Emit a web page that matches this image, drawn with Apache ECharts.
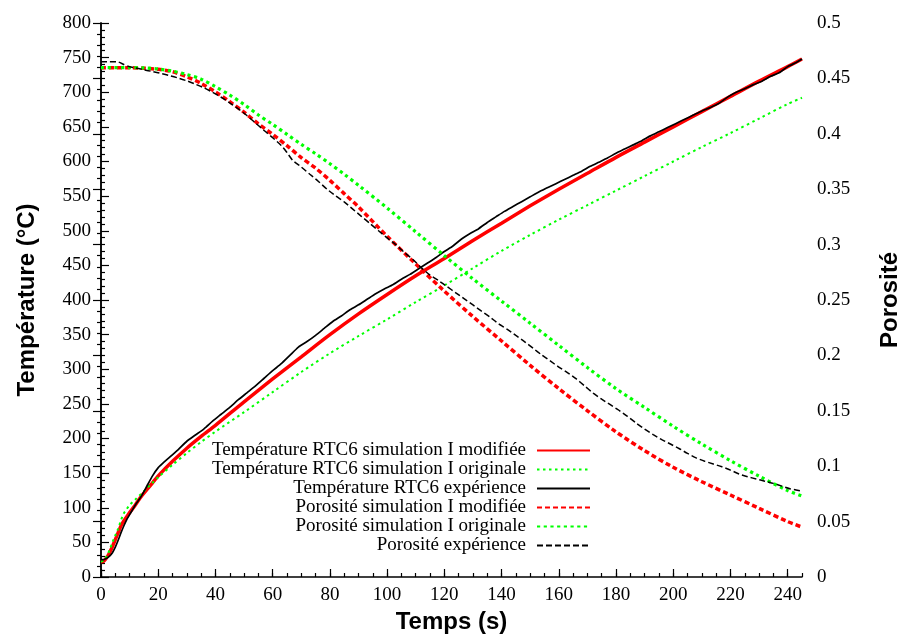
<!DOCTYPE html>
<html>
<head>
<meta charset="utf-8">
<script src="https://cdn.jsdelivr.net/npm/echarts@6/dist/echarts.min.js"></script>
<style>html,body{margin:0;padding:0;background:#fff;}#c{width:902px;height:635px;}</style>
</head>
<body>
<div id="c"></div>
<script>
// ---- Data ----
var tSim = [0,1,2,3,4,5,6,7,8,9,10,12,14,16,18,20,25,30,35,40,50,60,70,80,90,100,110,120,130,140,150,160,170,180,190,200,210,220,230,240,245];
var tempModifiee = [22,23,28,35,44,54,64,74,81,87,93,104,116,126,136,146,167,186,203,219,253,286,318,350,380,408,435,460,486,511,536,560,583,606,628,650,672,694,716,737,748];
var tempOriginale = [22,24,30,39,50,60,70,82,92,98,104,112,120,128,136,144,162,179,195,210,238,267,296,323,348,372,397,421,446,471,494,516,537,558,579,600,621,641,662,683,692];

var tTempExp = [0,1,2,3,4,5,6,7,8,9,10,11,12,14,16,18,20,22,24,27,30,33,36,39,42,45,48,51,54,57,60,63,66,69,72,75,78,81,84,87,90,93,96,99,102,105,108,111,114,117,120,123,126,129,132,135,138,141,144,147,150,153,156,159,162,165,168,171,174,177,180,183,186,189,192,195,198,201,204,207,210,213,216,219,222,225,228,231,234,237,240,243,245];
var tempExperience = [25,25,27,30,35,43,53,64,74,83,90,97,104,116,131,146,158,166,173,184,196,205,214,225,235,245,256,266,276,287,298,308,320,332,340,349,359,369,377,386,393,401,409,416,422,430,437,445,453,461,470,478,488,496,503,512,520,528,535,542,549,556,562,568,574,580,586,593,599,605,612,618,624,630,637,643,649,655,661,667,673,678,684,693,700,705,711,716,723,728,737,743,748];

var tPor = [0,5,10,15,20,25,30,35,40,45,50,55,60,65,70,75,80,85,90,100,110,120,130,140,150,160,170,180,190,200,210,220,230,240,245];
var porModifiee = [0.4597,0.4597,0.4596,0.4592,0.4582,0.456,0.4515,0.4455,0.4378,0.429,0.4195,0.409,0.3995,0.3893,0.3785,0.369,0.358,0.346,0.334,0.3075,0.2825,0.258,0.235,0.213,0.191,0.170,0.150,0.131,0.114,0.099,0.086,0.074,0.062,0.050,0.045];
var porOriginale = [0.4597,0.4597,0.4597,0.4595,0.4585,0.4565,0.4535,0.4493,0.4425,0.435,0.4265,0.417,0.4085,0.3995,0.3905,0.382,0.373,0.3635,0.3535,0.333,0.3115,0.290,0.269,0.249,0.229,0.209,0.189,0.170,0.153,0.136,0.120,0.105,0.091,0.078,0.073];

var tPorExp = [0,3,6,8,10,12,15,18,21,24,27,30,33,36,39,42,45,48,51,54,57,60,63,65,67,70,73,76,79,82,85,88,91,94,97,100,103,106,109,112,115,118,121,124,127,130,133,136,139,142,145,148,151,154,157,160,163,166,169,172,175,178,181,184,187,190,193,196,199,202,205,208,211,214,217,220,223,226,229,232,235,238,241,245];
var porExperience = [0.465,0.465,0.4648,0.4625,0.4605,0.4595,0.4578,0.4562,0.4545,0.4525,0.4503,0.4478,0.4448,0.4415,0.4375,0.4330,0.4280,0.4225,0.4165,0.4098,0.4030,0.3965,0.3895,0.383,0.376,0.370,0.3635,0.357,0.350,0.344,0.3385,0.332,0.3255,0.319,0.3125,0.306,0.300,0.293,0.2865,0.279,0.2725,0.2675,0.262,0.2565,0.251,0.2455,0.240,0.2345,0.2285,0.2235,0.218,0.2125,0.2065,0.2005,0.195,0.1895,0.1845,0.179,0.1725,0.166,0.1605,0.1555,0.1505,0.145,0.139,0.1335,0.1285,0.124,0.120,0.116,0.1115,0.1075,0.1045,0.102,0.0995,0.0965,0.093,0.0905,0.0885,0.0865,0.0845,0.0820,0.0795,0.0775];

var seriesNames = [
  'Température RTC6 simulation I modifiée',
  'Température RTC6 simulation I originale',
  'Température RTC6 expérience',
  'Porosité simulation I modifiée',
  'Porosité simulation I originale',
  'Porosité expérience'
];

function pairs(t, v) { return t.map(function (x, i) { return [x, v[i]]; }); }

var serif = 'Liberation Serif';
var sans = 'Liberation Sans';
var RED = '#ff0000', GREEN = '#00ff00', BLACK = '#000000';

var chart = echarts.init(document.getElementById('c'), null, {renderer: 'canvas'});
chart.setOption({
  animation: false,
  backgroundColor: '#ffffff',
  grid: {left: 101, right: 100, top: 23, bottom: 58, containLabel: false, outerBoundsMode: 'none'},
  legend: {
    orient: 'vertical',
    align: 'right',
    right: 306,
    top: 436,
    itemWidth: 53,
    itemHeight: 12,
    itemGap: 0,
    itemStyle: {opacity: 0, color: 'transparent', borderWidth: 0},
    textStyle: {fontFamily: serif, fontSize: 19, color: '#000', lineHeight: 19, padding: [0, 6, 0, 0]},
    data: seriesNames
  },
  xAxis: [{
    type: 'value', min: 0, max: 245, interval: 20,
    name: 'Temps (s)', nameLocation: 'middle', nameGap: 33,
    nameTextStyle: {fontFamily: sans, fontWeight: 'bold', fontSize: 24, color: '#000'},
    axisLine: {show: true, lineStyle: {color: '#000', width: 1.5}},
    axisTick: {show: true, inside: true, length: 8, lineStyle: {color: '#000', width: 1.2}},
    axisLabel: {fontFamily: serif, fontSize: 19, color: '#000', margin: 9, showMaxLabel: false},
    splitLine: {show: false}
  }, {
    type: 'value', min: 0, max: 245, interval: 5, position: 'bottom',
    axisLine: {show: false},
    axisTick: {show: true, inside: true, length: 4, lineStyle: {color: '#000', width: 1.2}},
    axisLabel: {show: false},
    splitLine: {show: false}
  }],
  yAxis: [{
    type: 'value', min: 0, max: 800, interval: 50, position: 'left',
    name: 'Température (°C)', nameLocation: 'middle', nameGap: 62,
    nameTextStyle: {fontFamily: sans, fontWeight: 'bold', fontSize: 24, color: '#000'},
    axisLine: {show: true, lineStyle: {color: '#000', width: 1.5}},
    axisTick: {show: true, inside: true, length: 8, lineStyle: {color: '#000', width: 1.2}},
    minorTick: {show: true, splitNumber: 5, length: 4, lineStyle: {color: '#000', width: 1.2}},
    axisLabel: {fontFamily: serif, fontSize: 19, color: '#000', margin: 10},
    splitLine: {show: false}, minorSplitLine: {show: false}
  }, {
    type: 'value', min: 0, max: 0.5, interval: 0.05, position: 'right',
    name: 'Porosité', nameLocation: 'middle', nameGap: 76,
    nameTextStyle: {fontFamily: sans, fontWeight: 'bold', fontSize: 24, color: '#000'},
    axisLine: {show: true, lineStyle: {color: '#000', width: 1.5}},
    axisTick: {show: true, inside: true, length: 8, lineStyle: {color: '#000', width: 1.2}},
    minorTick: {show: true, splitNumber: 5, length: 4, lineStyle: {color: '#000', width: 1.2}},
    axisLabel: {fontFamily: serif, fontSize: 19, color: '#000', margin: 15},
    splitLine: {show: false}, minorSplitLine: {show: false}
  }],
  series: [{
    name: seriesNames[0], type: 'line', xAxisIndex: 0, yAxisIndex: 0, symbol: 'none', smooth: 0.3,
    data: pairs(tSim, tempModifiee), itemStyle: {color: RED},
    lineStyle: {color: RED, width: 3.5, type: 'solid'}
  }, {
    name: seriesNames[1], type: 'line', xAxisIndex: 0, yAxisIndex: 0, symbol: 'none', smooth: 0.3,
    data: pairs(tSim, tempOriginale), itemStyle: {color: GREEN},
    lineStyle: {color: GREEN, width: 2, type: [2.5, 3.5]}
  }, {
    name: seriesNames[2], type: 'line', xAxisIndex: 0, yAxisIndex: 0, symbol: 'none', smooth: 0.2,
    data: pairs(tTempExp, tempExperience), itemStyle: {color: BLACK},
    lineStyle: {color: BLACK, width: 1.7, type: 'solid'}
  }, {
    name: seriesNames[3], type: 'line', xAxisIndex: 0, yAxisIndex: 1, symbol: 'none', smooth: 0.3,
    data: pairs(tPor, porModifiee), itemStyle: {color: RED},
    lineStyle: {color: RED, width: 3.5, type: [5, 3]}
  }, {
    name: seriesNames[4], type: 'line', xAxisIndex: 0, yAxisIndex: 1, symbol: 'none', smooth: 0.3,
    data: pairs(tPor, porOriginale), itemStyle: {color: GREEN},
    lineStyle: {color: GREEN, width: 3.2, type: [3.2, 3.5]}
  }, {
    name: seriesNames[5], type: 'line', xAxisIndex: 0, yAxisIndex: 1, symbol: 'none', smooth: 0.2,
    data: pairs(tPorExp, porExperience), itemStyle: {color: BLACK},
    lineStyle: {color: BLACK, width: 1.5, type: [6, 3]}
  }]
});
</script>
</body>
</html>
